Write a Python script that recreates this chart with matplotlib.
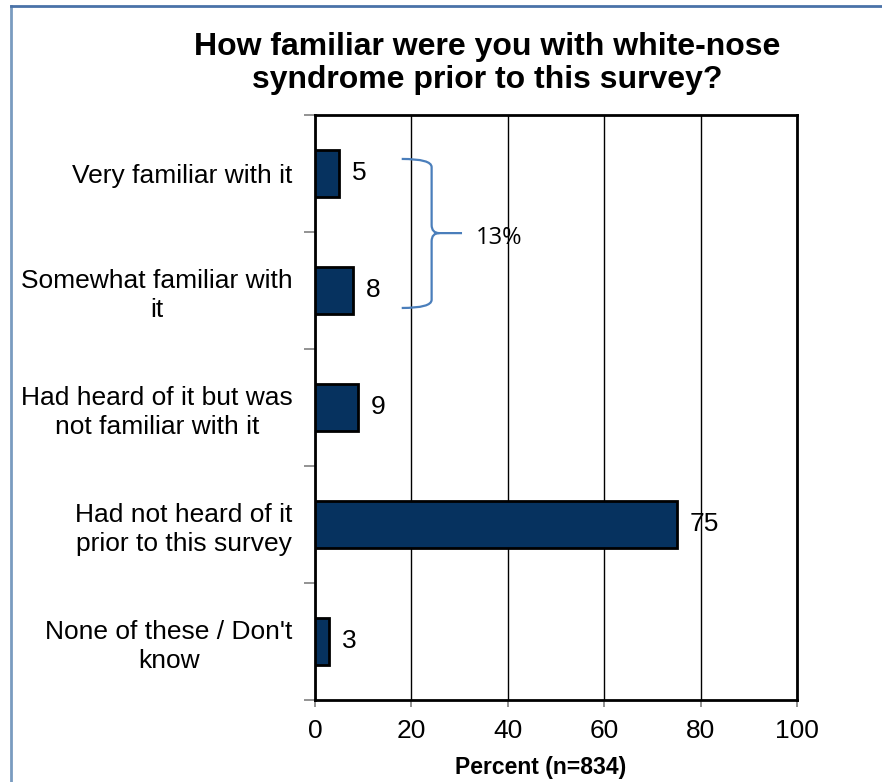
#!/usr/bin/env python3
"""
Horizontal bar chart: familiarity with white-nose syndrome
"""

import matplotlib.pyplot as plt
from matplotlib.path import Path
from matplotlib.patches import PathPatch
import numpy as np

plt.rcParams['font.family'] = ['Liberation Sans', 'DejaVu Sans']

categories = [
    "Very familiar with it",
    "Somewhat familiar with\nit",
    "Had heard of it but was\nnot familiar with it",
    "Had not heard of it\nprior to this survey",
    "None of these / Don't\nknow",
]
percent = [5, 8, 9, 75, 3]
xticks = [0, 20, 40, 60, 80, 100]
brace_label = "13%"


def main():
    fig = plt.figure(figsize=(8.82, 7.82), dpi=100)
    ax = fig.add_axes([0.357, 0.105, 0.547, 0.748])

    y = np.arange(len(categories))
    bars = ax.barh(y, percent, height=0.40, color='#06325f',
                   edgecolor='black', linewidth=2, zorder=3)

    ax.set_xlim(0, 100)
    ax.set_ylim(len(categories) - 0.5, -0.5)
    ax.set_xticks(xticks)
    ax.set_xticklabels([str(t) for t in xticks], fontsize=19)
    ax.set_yticks(y)
    ax.set_yticklabels(categories, fontsize=19)
    for lbl in ax.get_yticklabels():
        lbl.set_multialignment('center')
        lbl.set_linespacing(1.25)
    ax.tick_params(axis='y', which='major', length=0, pad=16)
    ax.set_yticks(np.arange(len(categories) + 1) - 0.5, minor=True)
    ax.tick_params(axis='y', which='minor', length=8, width=1.2, color='#808080')
    ax.tick_params(axis='x', which='major', length=5, width=1.2, color='#808080', pad=9)

    ax.grid(True, axis='x', color='black', linewidth=1, zorder=0)
    ax.grid(False, axis='y')
    for s in ax.spines.values():
        s.set_linewidth(2)
        s.set_color('black')

    # value labels
    for bar, v in zip(bars, percent):
        ax.text(bar.get_width() + 2.6, bar.get_y() + bar.get_height() / 2,
                str(v), ha='left', va='center', fontsize=19, zorder=4)

    # brace grouping the first two categories
    x0, xm, xt = 18.0, 24.2, 30.5
    yt, yc, yb = -0.124, 0.51, 1.15
    verts = [
        (x0, yt), (xm, yt), (xm, yt + 0.07),
        (xm, yc - 0.07), (xm, yc), (xm + 1.6, yc),
        (xt, yc),
        (xm + 1.6, yc), (xm, yc), (xm, yc + 0.07),
        (xm, yb - 0.07), (xm, yb), (x0, yb),
    ]
    codes = [
        Path.MOVETO, Path.CURVE3, Path.CURVE3,
        Path.LINETO, Path.CURVE3, Path.CURVE3,
        Path.LINETO,
        Path.MOVETO, Path.CURVE3, Path.CURVE3,
        Path.LINETO, Path.CURVE3, Path.CURVE3,
    ]
    ax.add_patch(PathPatch(Path(verts, codes), facecolor='none',
                           edgecolor='#4a7ebb', linewidth=1.6, zorder=4))
    ax.text(33.3, yc + 0.04, brace_label, ha='left', va='center',
            fontsize=17, family=['Open Sans', 'DejaVu Sans'], zorder=4)

    fig.text(0.552, 0.919, "How familiar were you with white-nose\nsyndrome prior to this survey?",
             ha='center', va='center', fontsize=23, fontweight='bold', linespacing=1.15)
    fig.text(0.613, 0.004, "Percent (n=834)", ha='center', va='bottom',
             fontsize=16.5, fontweight='bold')

    # outer frame (left and top edges visible)
    fig.add_artist(plt.Line2D([0.0125, 0.0125], [0, 0.992], transform=fig.transFigure,
                              color='#7a9cc0', linewidth=2))
    fig.add_artist(plt.Line2D([0.0125, 1.0], [0.992, 0.992], transform=fig.transFigure,
                              color='#4a72a8', linewidth=2))

    plt.savefig('out.png', dpi=100)


if __name__ == '__main__':
    main()
